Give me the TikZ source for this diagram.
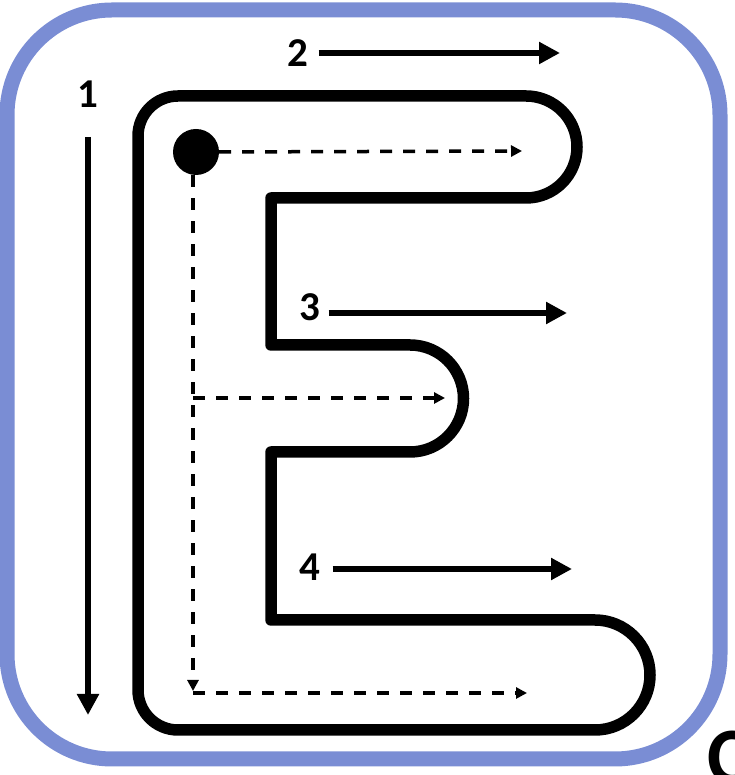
\documentclass[tikz,border=0pt]{standalone}
\usepackage{fontspec}
\setmainfont{Carlito}
\usetikzlibrary{arrows.meta}
\definecolor{frameblue}{RGB}{122,141,212}
\tikzset{
  frameline/.style={draw=frameblue,line width=15pt,rounded corners=105pt},
  eline/.style={draw=black,line width=11.5pt,line join=round},
  solidarrow/.style={draw=black,line width=6pt,-{Triangle[length=21pt,width=21pt]}},
  dasharrow/.style={draw=black,line width=3.5pt,dash pattern=on 12pt off 11pt,-{Triangle[length=11pt,width=11pt]}},
  numlabel/.style={font=\fontsize{41}{41}\selectfont\bfseries,inner sep=0pt}
}
\begin{document}
\begin{tikzpicture}[x=1pt,y=1pt]
\useasboundingbox (0,0) rectangle (734,775);
% frame
\draw[frameline] (7,16) rectangle (720,765);
% letter E outline
\draw[eline] (178,679) -- (526,679) arc[start angle=90,end angle=-90,radius=51pt]
  -- (271,577) -- (271,430) -- (410,430) arc[start angle=90,end angle=-90,radius=53.5pt]
  -- (271,323) -- (271,155) -- (595,155) arc[start angle=90,end angle=-90,radius=55pt]
  -- (178,45) arc[start angle=270,end angle=180,radius=40pt]
  -- (138,639) arc[start angle=180,end angle=90,radius=40pt] -- cycle;
% start dot
\node[circle,fill=black,minimum size=46pt,inner sep=0pt] (dot) at (196,623) {};
% dashed guide arrows
\coordinate (t1) at (522,624);
\coordinate (vend) at (193,84);
\coordinate (m0) at (193,377);
\coordinate (m1) at (445,377);
\coordinate (b0) at (193,82);
\coordinate (b1) at (527,82);
\draw[dasharrow] (dot.east) -- (t1);
\draw[dasharrow] ([xshift=-3pt]dot.south) -- (vend);
\draw[dasharrow] (m0) -- (m1);
\draw[dasharrow] (b0) -- (b1);
% numbered solid arrows
\node[numlabel] (n1) at (88,681) {1};
\coordinate (a1s) at (88,638);
\coordinate (a1e) at (88,60);
\draw[solidarrow] (a1s) -- (a1e);
\node[numlabel] (n2) at (298,722) {2};
\coordinate (a2e) at (560,722);
\draw[solidarrow] ([xshift=10pt]n2.east) -- (a2e);
\node[numlabel] (n3) at (310,468) {3};
\coordinate (a3e) at (567,462);
\draw[solidarrow] ([xshift=8pt,yshift=-6pt]n3.east) -- (a3e);
\node[numlabel] (n4) at (310,208) {4};
\coordinate (a4e) at (572,206);
\draw[solidarrow] ([xshift=12pt,yshift=-2pt]n4.east) -- (a4e);
% letter cropped by the picture's edge, as in the reference
\node[font=\fontsize{80}{80}\selectfont\bfseries,inner sep=0pt,anchor=north west] (cc) at (707,44) {C};
\end{tikzpicture}
\end{document}
